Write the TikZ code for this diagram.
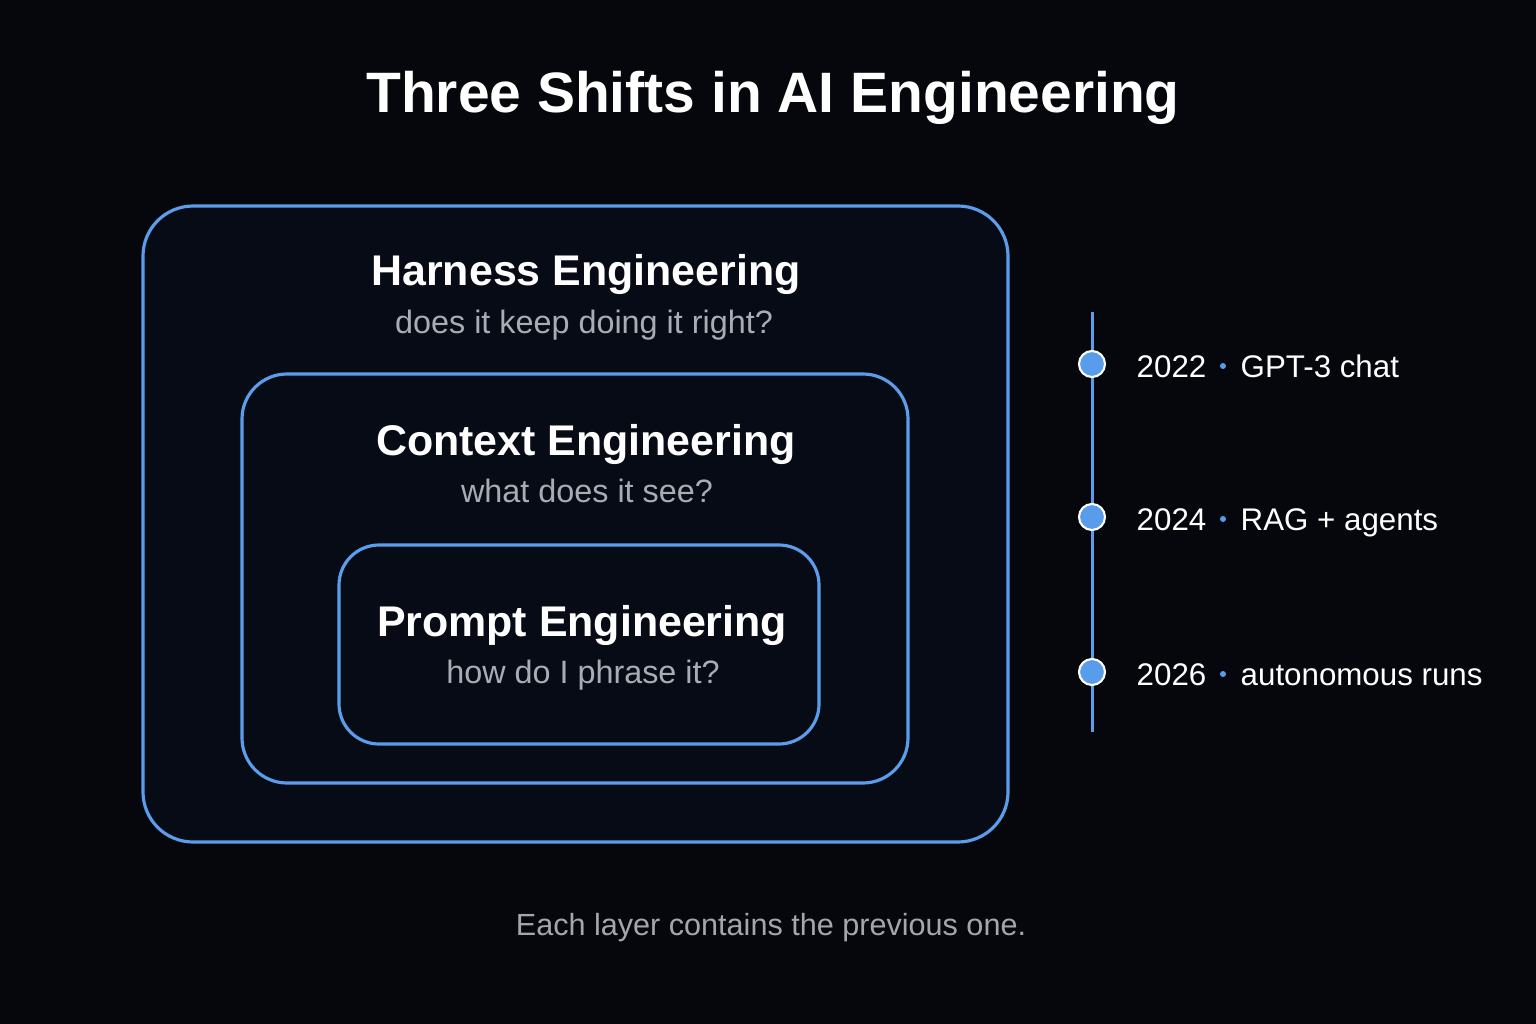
\documentclass[tikz,border=0pt]{standalone}
\usepackage{fontspec}
\setmainfont{Liberation Sans}
\usetikzlibrary{positioning}
\definecolor{bgcol}{HTML}{05070C}
\definecolor{boxfill}{HTML}{070B15}
\definecolor{edgeblue}{HTML}{5B9DEB}
\definecolor{dotblue}{HTML}{5A9CEC}
\definecolor{subgray}{HTML}{A9ACB3}
\definecolor{capgray}{HTML}{A3A6AC}
\tikzset{
  layerbox/.style={draw=edgeblue, fill=boxfill, line width=0.9pt},
  heading/.style={text=white, font=\fontsize{12.2}{14}\selectfont\bfseries, anchor=base},
  subline/.style={text=subgray, font=\fontsize{9.2}{11}\selectfont, anchor=base},
  yearlabel/.style={text=white, font=\fontsize{8.9}{11}\selectfont, anchor=base west, inner sep=0pt},
  tickdot/.style={circle, fill=dotblue, draw=white, line width=0.6pt, minimum size=0.26cm, inner sep=0pt},
  sepdot/.style={circle, fill=dotblue, minimum size=0.06cm, inner sep=0pt}
}
\begin{document}
\begin{tikzpicture}[x=0.01cm, y=-0.01cm]
  % background fixes the page size
  \fill[bgcol] (0,0) rectangle (1536,1024);
  % title
  \node[text=white, font=\fontsize{16.2}{19}\selectfont\bfseries, anchor=base] (title) at (773,112) {Three Shifts in AI Engineering};
  % nested layers, outer to inner
  \draw[layerbox, rounded corners=0.5cm] (143,206) rectangle (1008,842);
  \draw[layerbox, rounded corners=0.45cm] (242,374) rectangle (908,783);
  \draw[layerbox, rounded corners=0.4cm] (339,545) rectangle (819,744);
  % harness layer
  \node[heading] (harness) at (586,285) {Harness Engineering};
  \node[subline] (harnessq) at (584,333) {does it keep doing it right?};
  % context layer
  \node[heading] (context) at (586,455) {Context Engineering};
  \node[subline] (contextq) at (587,502) {what does it see?};
  % prompt layer
  \node[heading] (prompt) at (582,636) {Prompt Engineering};
  \node[subline] (promptq) at (583,683) {how do I phrase it?};
  % timeline
  \coordinate (tltop) at (1092,312);
  \coordinate (tlbot) at (1092,732);
  \draw[edgeblue, line width=0.85pt] (tltop) -- (tlbot);
  \node[tickdot] (t22) at (1092,364) {};
  \node[tickdot] (t24) at (1092,517) {};
  \node[tickdot] (t26) at (1092,672) {};
  \node[yearlabel] (y22) at (1136,377) {2022};
  \node[sepdot] (s22) at (1223,366) {};
  \node[yearlabel] (l22) at (1240,377) {GPT-3 chat};
  \node[yearlabel] (y24) at (1136,530) {2024};
  \node[sepdot] (s24) at (1223,519) {};
  \node[yearlabel] (l24) at (1240,530) {RAG + agents};
  \node[yearlabel] (y26) at (1136,685) {2026};
  \node[sepdot] (s26) at (1223,674) {};
  \node[yearlabel] (l26) at (1240,685) {autonomous runs};
  % caption
  \node[text=capgray, font=\fontsize{8.7}{11}\selectfont, anchor=base] (caption) at (771,935) {Each layer contains the previous one.};
\end{tikzpicture}
\end{document}
